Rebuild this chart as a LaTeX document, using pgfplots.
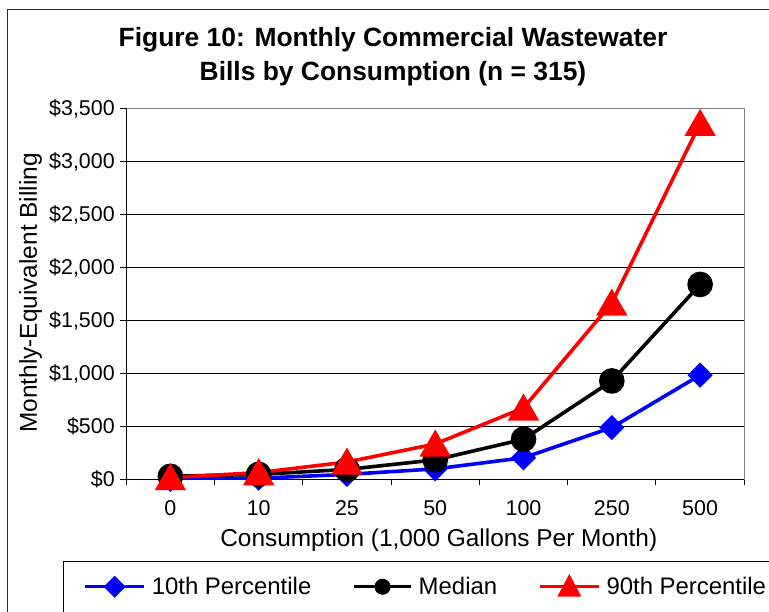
\documentclass[border=0pt]{standalone}
\usepackage{fontspec}
\setmainfont{Liberation Sans}
\usepackage{pgfplots}
\pgfplotsset{compat=1.18}
\definecolor{xlblue}{RGB}{0,0,255}
\definecolor{xlred}{RGB}{255,0,0}
\definecolor{framegray}{RGB}{128,128,128}
\begin{document}
\begin{tikzpicture}[x=1bp,y=1bp]
\clip (0,0) rectangle (769,612);
\path[use as bounding box] (0,0) rectangle (769,612);
% outer chart frame
\draw[line width=1.5bp, black!85] (7.5,602.5) rectangle (820,-40);
% title
\node[font=\bfseries\fontsize{26.5}{32}\selectfont, anchor=base] at (393,565) {Figure 10: Monthly Commercial Wastewater};
\node[font=\bfseries\fontsize{26.5}{32}\selectfont, anchor=base] at (393,531) {Bills by Consumption (n = 315)};
% legend frame
\draw[line width=1bp, black] (63,50) rectangle (820,-40);
\begin{axis}[
  at={(143,125)}, anchor=south west,
  scale only axis, width=618bp, height=371bp,
  xmin=-0.5, xmax=6.5, ymin=0, ymax=3500,
  xtick={-0.5,0.5,...,6.5},
  x tick label as interval,
  xticklabels={0,10,25,50,100,250,500},
  ytick={0,500,...,3500},
  yticklabels={{\$0},{\$500},{\$1,000},{\$1,500},{\$2,000},{\$2,500},{\$3,000},{\$3,500}},
  tick align=outside, tick pos=left,
  major tick length=6bp,
  tick style={black, line width=1bp},
  ymajorgrids, grid style={black, line width=0.9bp},
  axis line style={draw=framegray, line width=1.4bp},
  ticklabel style={font=\fontsize{21.5}{25}\selectfont},
  yticklabel style={xshift=-2bp},
  xticklabel style={yshift=-12bp},
  xlabel={Consumption (1,000 Gallons Per Month)},
  ylabel={Monthly-Equivalent Billing},
  label style={font=\fontsize{24.5}{29}\selectfont},
  xlabel style={at={(axis description cs:0.5057,-0.163)}, anchor=center},
  ylabel style={at={(axis description cs:-0.155,0.5027)}, anchor=center},
  legend style={draw=none, fill=none, inner sep=0pt,
    at={(axis description cs:-0.0696,-0.2884)}, anchor=west,
    legend columns=-1, font=\fontsize{24}{28}\selectfont,
    nodes={inner sep=0pt},
    /tikz/every odd column/.append style={column sep=6bp},
    /tikz/every even column/.append style={column sep=41bp}},
]
\draw[black, line width=1.4bp] (rel axis cs:0,1) -- (rel axis cs:0,0) -- (rel axis cs:1,0);
\addplot[xlblue, line width=3.6bp, mark=square*, mark size=7.1bp, mark options={rotate=45, solid},
  legend image code/.code={\draw[xlblue, line width=3.4bp] (0bp,0bp) -- (59bp,0bp); \fill[xlblue, rotate around={45:(29.5bp,0bp)}] (23.5bp,-6bp) rectangle (35.5bp,6bp);}]
  coordinates {(0,0) (1,12) (2,48) (3,100) (4,205) (5,490) (6,985)};
\addlegendentry{10th Percentile}
\addplot[black, line width=3.6bp, mark=*, mark size=11bp, mark options={solid},
  legend image code/.code={\draw[black, line width=3.4bp] (0bp,0bp) -- (57bp,0bp); \fill[black] (28.5bp,0bp) circle (6.2bp);}]
  coordinates {(0,30) (1,48) (2,95) (3,185) (4,380) (5,930) (6,1840)};
\addlegendentry{Median}
\addplot[xlred, line width=3.6bp, mark=triangle*, mark size=14.5bp, mark options={solid, yshift=-3.6bp},
  legend image code/.code={\draw[xlred, line width=3.4bp] (0bp,0bp) -- (59bp,0bp); \fill[xlred] (29.5bp,9bp) -- (20.5bp,-8bp) -- (38.5bp,-8bp) -- cycle;}]
  coordinates {(0,18) (1,65) (2,165) (3,335) (4,675) (5,1665) (6,3360)};
\addlegendentry{90th Percentile}
\end{axis}
\end{tikzpicture}
\end{document}
